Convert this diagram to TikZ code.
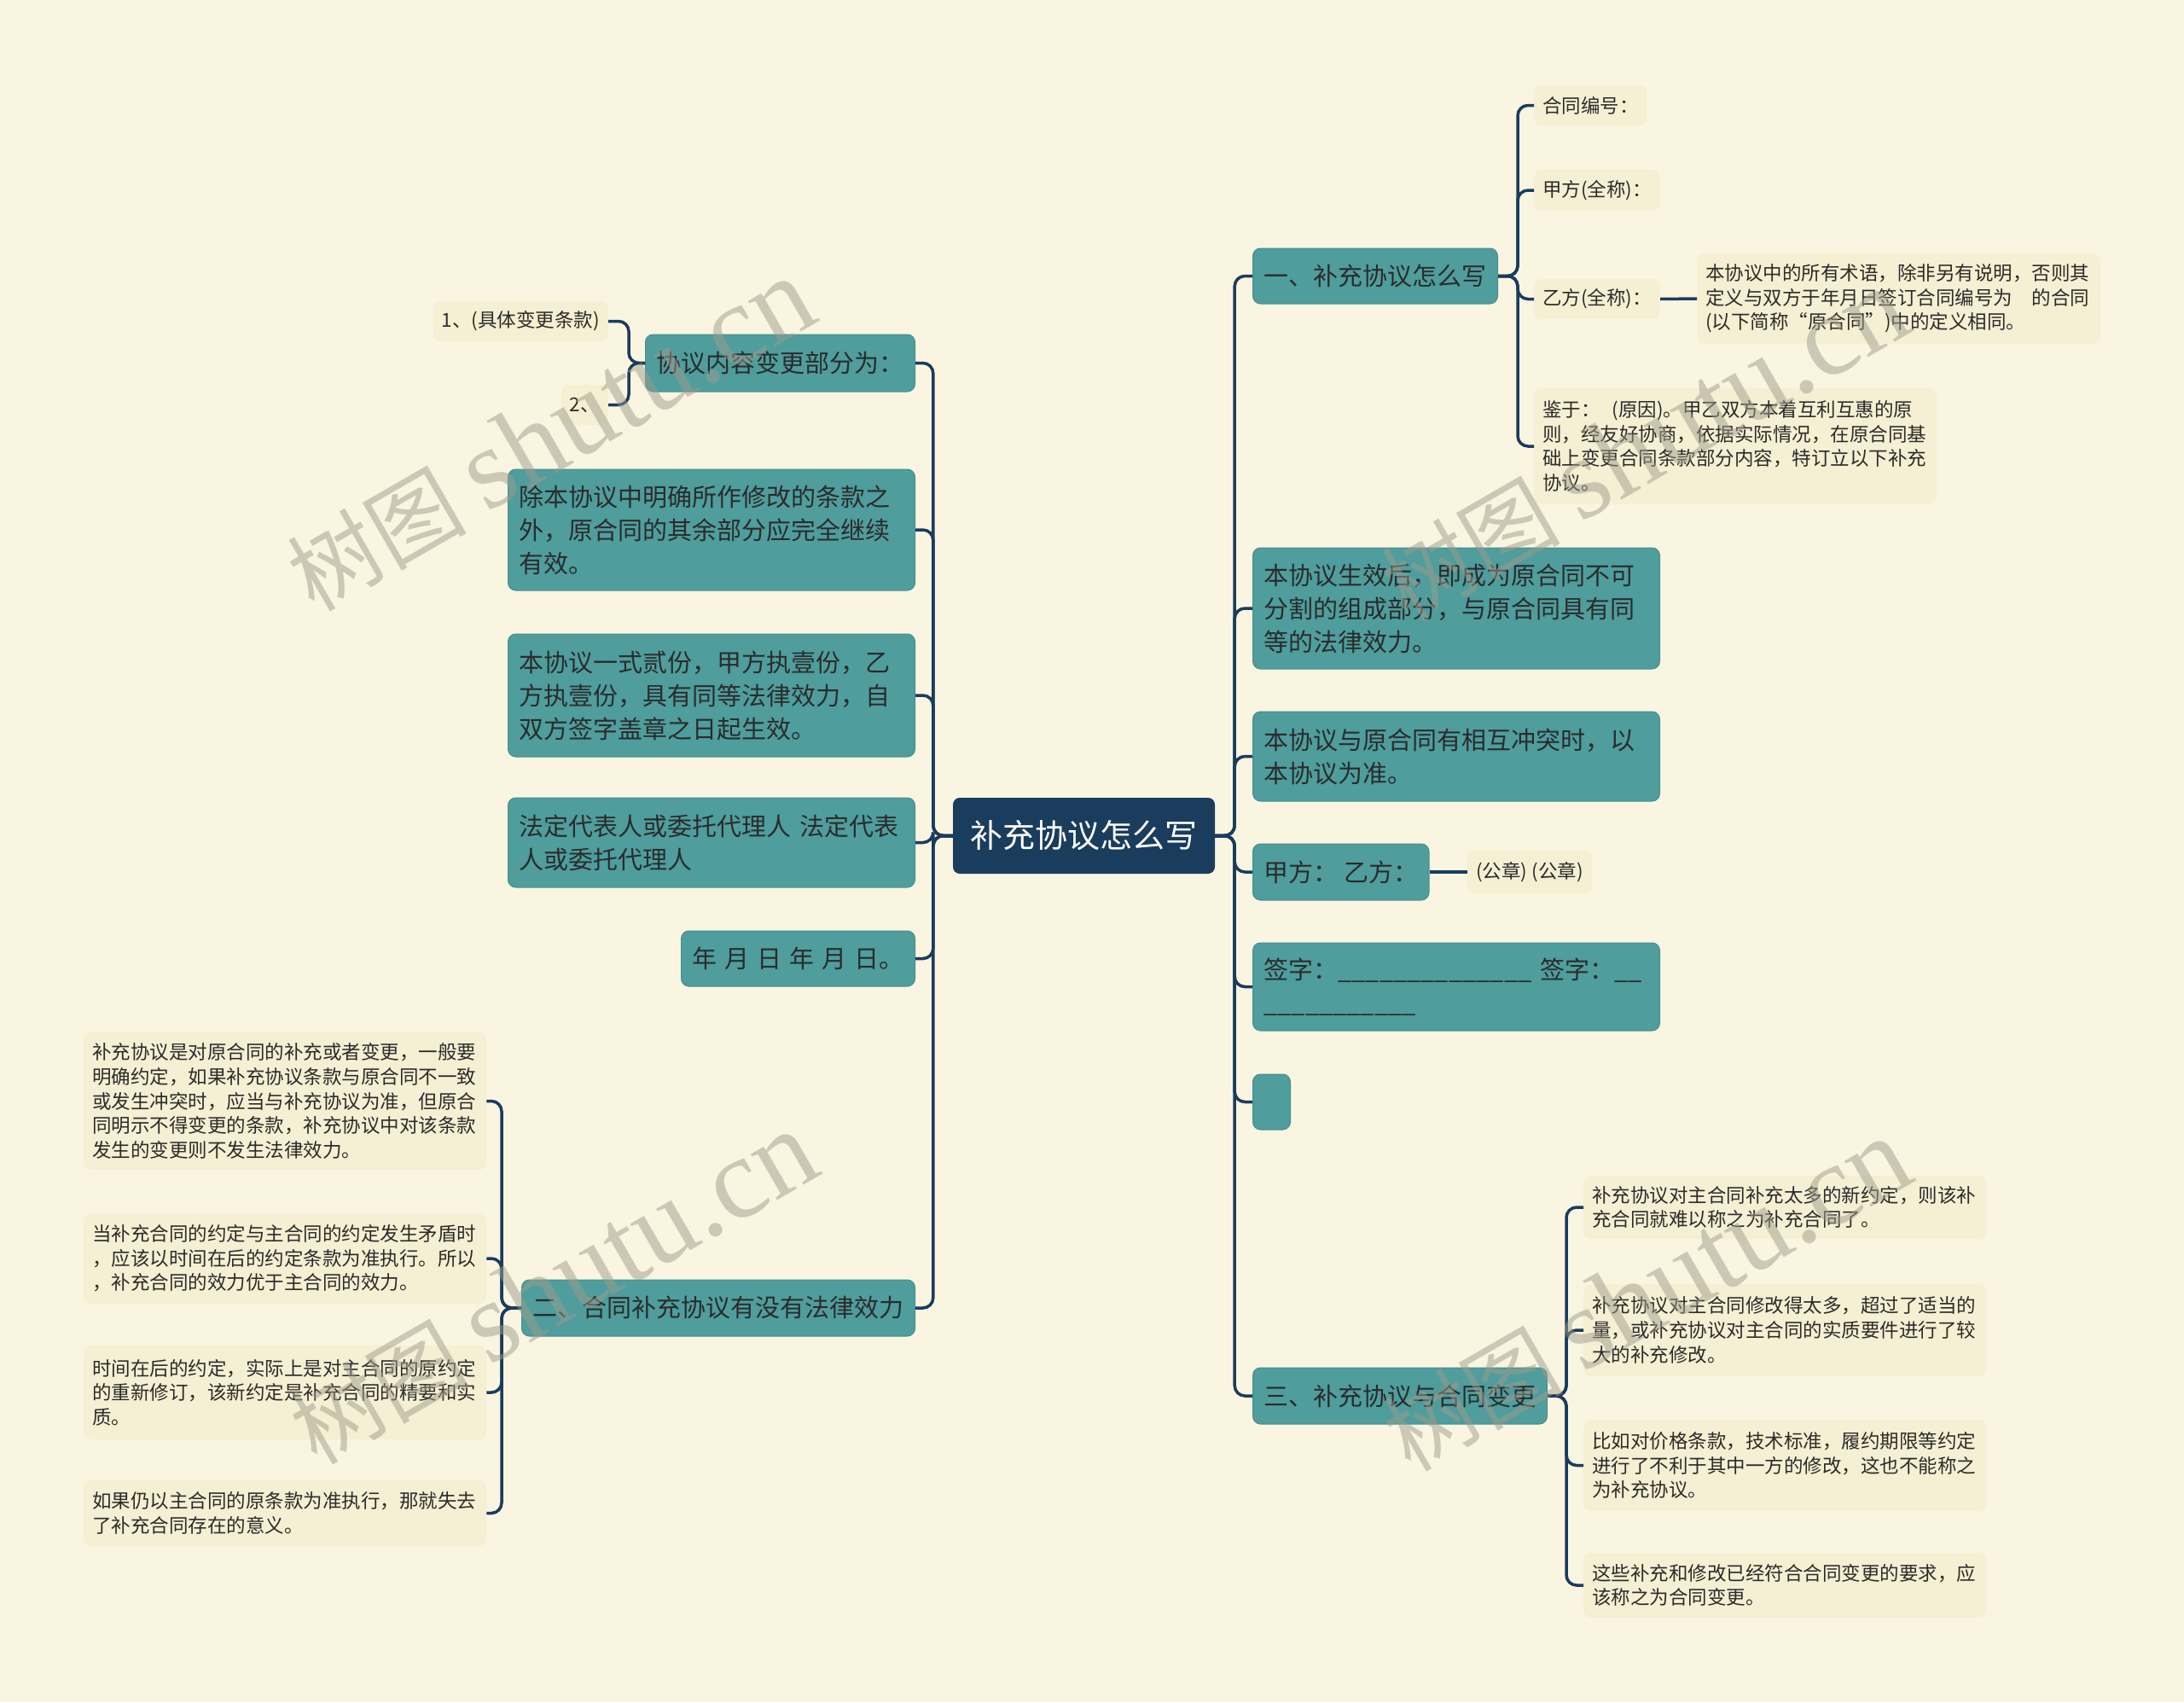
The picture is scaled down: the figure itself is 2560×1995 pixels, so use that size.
\documentclass[tikz,border=0pt]{standalone}
\usepackage{fontspec}
\setmainfont{Noto Sans CJK SC}
\newfontfamily\wmfont{Liberation Serif}
\definecolor{bg}{HTML}{FAF5E1}
\definecolor{tealc}{HTML}{4F9D9D}
\definecolor{tealb}{HTML}{48908F}
\definecolor{navy}{HTML}{1A3C5D}
\definecolor{leafc}{HTML}{F5EFD3}
\definecolor{txt}{HTML}{2B2B2B}
\definecolor{wm}{HTML}{A09C8C}
\tikzset{
  conn/.style={draw=navy, line width=3.5pt, rounded corners=12pt},
  rootbox/.style={fill=navy, rounded corners=8pt, text=white, font=\fontsize{38}{46}\selectfont, inner sep=0pt, align=center},
  tbox/.style={fill=tealc, draw=tealb, line width=1pt, rounded corners=9pt, text=txt, font=\fontsize{29}{39}\selectfont, inner xsep=13pt, inner ysep=0pt, align=left},
  lbox/.style={fill=leafc, rounded corners=9pt, text=txt, font=\fontsize{22.5}{28.6}\selectfont, inner xsep=10pt, inner ysep=0pt, align=left},
  wmark/.style={text=wm, opacity=0.5, rotate=30, inner sep=0pt}
}
\begin{document}
\begin{tikzpicture}[x=1pt,y=-1pt]
\useasboundingbox (0,0) rectangle (2560,1995);
\fill[bg] (0,0) rectangle (2560,1995);

% root
\node[rootbox, minimum width=307pt, minimum height=89pt] (root) at (1270.5,979.5) {补充协议怎么写};

% left main branches
\node[tbox, anchor=east, minimum height=67pt] (L1) at (1073,425.5) {协议内容变更部分为：};
\node[tbox, anchor=east, text width=451pt, minimum height=142pt] (L2) at (1073,621) {除本协议中明确所作修改的条款之\\外，原合同的其余部分应完全继续\\有效。};
\node[tbox, anchor=east, text width=451pt, minimum height=144pt] (L3) at (1073,815) {本协议一式贰份，甲方执壹份，乙\\方执壹份，具有同等法律效力，自\\双方签字盖章之日起生效。};
\node[tbox, anchor=east, text width=451pt, minimum height=105pt] (L4) at (1073,987.5) {法定代表人或委托代理人 法定代表\\人或委托代理人};
\node[tbox, anchor=east, minimum height=65pt] (L5) at (1073,1123.5) {\mbox{年\hspace{9pt}月\hspace{9pt}日\hspace{9pt}年\hspace{9pt}月\hspace{9pt}日。}};
\node[tbox, anchor=east, minimum height=66pt] (L6) at (1073,1533) {二、合同补充协议有没有法律效力};

% leaves of L1
\node[lbox, anchor=east, minimum height=47pt] (k1) at (713,376.5) {1、(具体变更条款)};
\node[lbox, anchor=east, minimum height=47pt] (k2) at (713,474.5) {2、};

% leaves of L6
\node[lbox, anchor=west, text width=452pt, minimum height=161pt] (B1) at (98,1290.5) {补充协议是对原合同的补充或者变更，一般要\\明确约定，如果补充协议条款与原合同不一致\\或发生冲突时，应当与补充协议为准，但原合\\同明示不得变更的条款，补充协议中对该条款\\发生的变更则不发生法律效力。};
\node[lbox, anchor=west, text width=452pt, minimum height=106pt] (B2) at (98,1475) {当补充合同的约定与主合同的约定发生矛盾时\\，应该以时间在后的约定条款为准执行。所以\\，补充合同的效力优于主合同的效力。};
\node[lbox, anchor=west, text width=452pt, minimum height=110pt] (B3) at (98,1632) {时间在后的约定，实际上是对主合同的原约定\\的重新修订，该新约定是补充合同的精要和实\\质。};
\node[lbox, anchor=west, text width=452pt, minimum height=77pt] (B4) at (98,1773.5) {如果仍以主合同的原条款为准执行，那就失去\\了补充合同存在的意义。};

% right main branches
\node[tbox, anchor=west, minimum height=65pt] (R1) at (1468,323.5) {一、补充协议怎么写};
\node[tbox, anchor=west, text width=451pt, minimum height=142pt] (R2) at (1468,713) {本协议生效后，即成为原合同不可\\分割的组成部分，与原合同具有同\\等的法律效力。};
\node[tbox, anchor=west, text width=451pt, minimum height=105pt] (R3) at (1468,886.5) {本协议与原合同有相互冲突时，以\\本协议为准。};
\node[tbox, anchor=west, minimum height=66pt] (R4) at (1468,1022) {甲方： 乙方：};
\node[tbox, anchor=west, text width=451pt, minimum height=103pt] (R5) at (1468,1156.5) {签字：\_\_\_\_\_\_\_\_\_\_\_\_\_\_ 签字：\_\_\\\_\_\_\_\_\_\_\_\_\_\_};
\node[tbox, anchor=west, minimum width=44pt, minimum height=65pt] (R6) at (1468,1291.5) {};
\node[tbox, anchor=west, minimum height=66pt] (R7) at (1468,1636) {三、补充协议与合同变更};

% leaves of R1
\node[lbox, anchor=west, minimum height=47pt] (a1) at (1798,123.5) {合同编号：};
\node[lbox, anchor=west, minimum height=48pt] (a2) at (1798,223) {甲方(全称)：};
\node[lbox, anchor=west, minimum height=47pt] (a3) at (1798,350.5) {乙方(全称)：};
\node[lbox, anchor=west, text width=452pt, minimum height=136pt] (a4) at (1798,523) {鉴于：\hspace{14pt}(原因)。甲乙双方本着互利互惠的原\\则，经友好协商，依据实际情况，在原合同基\\础上变更合同条款部分内容，特订立以下补充\\协议。};
\node[lbox, anchor=west, text width=453pt, minimum height=106pt] (a5) at (1989,350) {本协议中的所有术语，除非另有说明，否则其\\定义与双方于年月日签订合同编号为　的合同\\(以下简称“原合同”)中的定义相同。};

% leaf of R4
\node[lbox, anchor=west, minimum height=50pt] (gz) at (1720,1022) {(公章) (公章)};

% leaves of R7
\node[lbox, anchor=west, text width=452pt, minimum height=74pt] (s1) at (1856,1415) {补充协议对主合同补充太多的新约定，则该补\\充合同就难以称之为补充合同了。};
\node[lbox, anchor=west, text width=452pt, minimum height=108pt] (s2) at (1856,1559) {补充协议对主合同修改得太多，超过了适当的\\量，或补充协议对主合同的实质要件进行了较\\大的补充修改。};
\node[lbox, anchor=west, text width=452pt, minimum height=107pt] (s3) at (1856,1717.5) {比如对价格条款，技术标准，履约期限等约定\\进行了不利于其中一方的修改，这也不能称之\\为补充协议。};
\node[lbox, anchor=west, text width=452pt, minimum height=76pt] (s4) at (1856,1858) {这些补充和修改已经符合合同变更的要求，应\\该称之为合同变更。};

% connectors: root to left
\foreach \n in {L1,L2,L3,L4,L5,L6}
  \draw[conn] (root.west) -- ++(-23,0) |- (\n.east);
% root to right
\foreach \n in {R1,R2,R3,R4,R5,R6,R7}
  \draw[conn] (root.east) -- ++(23,0) |- (\n.west);
% L1 leaves
\foreach \n in {k1,k2}
  \draw[conn] (L1.west) -- ++(-19,0) |- (\n.east);
% L6 leaves
\foreach \n in {B1,B2,B3,B4}
  \draw[conn] (L6.west) -- ++(-23,0) |- (\n.east);
% R1 leaves
\foreach \n in {a1,a2,a3,a4}
  \draw[conn] (R1.east) -- ++(23,0) |- (\n.west);
\draw[conn] (a3.east) -- (a5.west);
\draw[conn] (R4.east) -- (gz.west);
% R7 leaves
\foreach \n in {s1,s2,s3,s4}
  \draw[conn] (R7.east) -- ++(22,0) |- (\n.west);

% watermarks
\node[wmark] (w1) at (645,510) {\fontsize{105}{110}\selectfont 树图 {\wmfont\fontsize{135}{140}\selectfont shutu.cn}};
\node[wmark] (w2) at (1927,522) {\fontsize{105}{110}\selectfont 树图 {\wmfont\fontsize{135}{140}\selectfont shutu.cn}};
\node[wmark] (w3) at (648,1510) {\fontsize{105}{110}\selectfont 树图 {\wmfont\fontsize{135}{140}\selectfont shutu.cn}};
\node[wmark] (w4) at (1930,1518) {\fontsize{105}{110}\selectfont 树图 {\wmfont\fontsize{135}{140}\selectfont shutu.cn}};
\end{tikzpicture}
\end{document}
